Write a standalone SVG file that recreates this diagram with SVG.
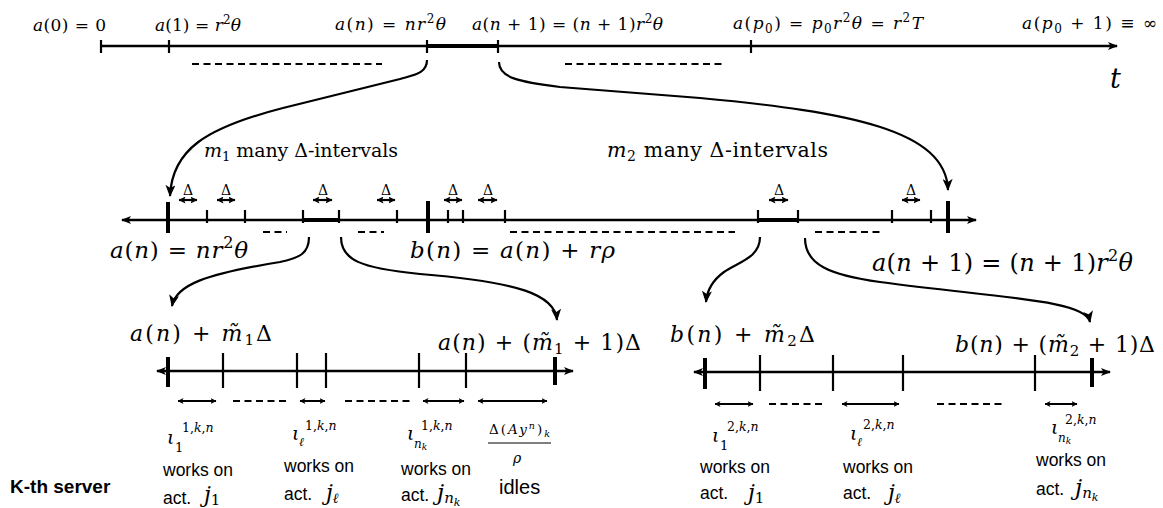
<svg xmlns="http://www.w3.org/2000/svg" width="1163" height="508" viewBox="0 0 1163 508">
<style>
.m{font-family:"DejaVu Serif","Liberation Serif",serif;fill:#000}
.i{font-style:italic}
.s{font-family:"Liberation Sans",Arial,sans-serif;fill:#000}
.ax{stroke:#000;stroke-width:2.4;fill:none}
.tk{stroke:#000;stroke-width:2.2}
.tkb{stroke:#000;stroke-width:4}
.seg{stroke:#000;stroke-width:4}
.dash{stroke:#000;stroke-width:2;stroke-dasharray:7 4.5}
.da{stroke:#000;stroke-width:2;fill:none;marker-start:url(#sm);marker-end:url(#sm)}
.dm{stroke:#000;stroke-width:2.2;fill:none;marker-start:url(#smd);marker-end:url(#smd)}
.cv{stroke:#000;stroke-width:2.2;fill:none;marker-end:url(#big)}
</style>
<defs>
<marker id="ah" viewBox="0 0 10 8" refX="9" refY="4" markerWidth="10" markerHeight="8" markerUnits="userSpaceOnUse" orient="auto-start-reverse"><path d="M0,0 L10,4 L0,8 L2.5,4 z" fill="#000"/></marker>
<marker id="sm" viewBox="0 0 6 6" refX="5.5" refY="3" markerWidth="6" markerHeight="6" markerUnits="userSpaceOnUse" orient="auto-start-reverse"><path d="M0,0 L6,3 L0,6 L1.5,3 z" fill="#000"/></marker>
<marker id="smd" viewBox="0 0 7 7" refX="6.5" refY="3.5" markerWidth="7" markerHeight="7" markerUnits="userSpaceOnUse" orient="auto-start-reverse"><path d="M0,0 L7,3.5 L0,7 L1.5,3.5 z" fill="#000"/></marker>
<marker id="big" viewBox="0 0 12 10" refX="11" refY="5" markerWidth="12" markerHeight="10" markerUnits="userSpaceOnUse" orient="auto"><path d="M0,0 L12,5 L0,10 L3,5 z" fill="#000"/></marker>
</defs>

<g id="top-timeline">
<path class="ax" d="M101,46 L1117,46" marker-end="url(#ah)"/>
<line class="seg" x1="427" y1="46" x2="498" y2="46"/>
<g class="tk"><line x1="101" y1="40" x2="101" y2="53"/><line x1="169" y1="40" x2="169" y2="53"/><line x1="427" y1="40" x2="427" y2="53"/><line x1="498" y1="40" x2="498" y2="53"/><line x1="751" y1="40" x2="751" y2="53"/></g>
<line class="dash" x1="192" y1="64" x2="382" y2="64"/>
<line class="dash" x1="565" y1="64" x2="726" y2="64"/>
<g class="m" font-size="17">
<text x="33" y="31" textLength="73" lengthAdjust="spacing"><tspan class="i">a</tspan>(0) = 0</text>
<text x="155" y="31" textLength="86" lengthAdjust="spacing"><tspan class="i">a</tspan>(1) = <tspan class="i">r</tspan><tspan dy="-7" font-size="12">2</tspan><tspan dy="7" class="i">θ</tspan></text>
<text x="335" y="30" textLength="111" lengthAdjust="spacing"><tspan class="i">a</tspan>(<tspan class="i">n</tspan>) = <tspan class="i">nr</tspan><tspan dy="-7" font-size="12">2</tspan><tspan dy="7" class="i">θ</tspan></text>
<text x="472" y="30" textLength="191" lengthAdjust="spacing"><tspan class="i">a</tspan>(<tspan class="i">n</tspan> + 1) = (<tspan class="i">n</tspan> + 1)<tspan class="i">r</tspan><tspan dy="-7" font-size="12">2</tspan><tspan dy="7" class="i">θ</tspan></text>
<text x="733" y="29" textLength="190" lengthAdjust="spacing"><tspan class="i">a</tspan>(<tspan class="i">p</tspan><tspan dy="4" font-size="12">0</tspan><tspan dy="-4">) = </tspan><tspan class="i">p</tspan><tspan dy="4" font-size="12">0</tspan><tspan dy="-4" class="i">r</tspan><tspan dy="-7" font-size="12">2</tspan><tspan dy="7" class="i">θ</tspan> = <tspan class="i">r</tspan><tspan dy="-7" font-size="12">2</tspan><tspan dy="7" class="i">T</tspan></text>
<text x="1022" y="29" textLength="135" lengthAdjust="spacing"><tspan class="i">a</tspan>(<tspan class="i">p</tspan><tspan dy="4" font-size="12">0</tspan><tspan dy="-4"> + 1) ≡ ∞</tspan></text>
</g>
<text class="m i" x="1110" y="88" font-size="27">t</text>
</g>

<g id="middle-timeline">
<path class="ax" d="M122,220 L976,220" marker-start="url(#ah)" marker-end="url(#ah)"/>
<line class="seg" x1="303" y1="220" x2="339" y2="220"/>
<line class="seg" x1="758" y1="220" x2="798" y2="220"/>
<g class="tk"><line x1="207" y1="210" x2="207" y2="223"/><line x1="245" y1="210" x2="245" y2="223"/><line x1="303" y1="210" x2="303" y2="223"/><line x1="339" y1="210" x2="339" y2="223"/><line x1="397" y1="210" x2="397" y2="223"/><line x1="448" y1="210" x2="448" y2="223"/><line x1="463" y1="210" x2="463" y2="223"/><line x1="505" y1="210" x2="505" y2="223"/><line x1="758" y1="210" x2="758" y2="223"/><line x1="798" y1="210" x2="798" y2="223"/><line x1="892" y1="210" x2="892" y2="223"/><line x1="931" y1="210" x2="931" y2="223"/></g>
<g class="tkb"><line x1="168" y1="202" x2="168" y2="233"/><line x1="428" y1="201" x2="428" y2="233"/><line x1="948" y1="201" x2="948" y2="233"/></g>
<line class="dash" x1="263" y1="232" x2="287" y2="232"/>
<line class="dash" x1="358" y1="232" x2="384" y2="232"/>
<line class="dash" x1="510" y1="232" x2="735" y2="232"/>
<line class="dash" x1="815" y1="232" x2="883" y2="232"/>
<g id="delta-marks">
<path class="dm" d="M179,200 L197,200"/><path class="dm" d="M217,200 L235,200"/><path class="dm" d="M313,200 L332,200"/><path class="dm" d="M377,200 L395,200"/><path class="dm" d="M444,200 L462,200"/><path class="dm" d="M478,200 L497,200"/><path class="dm" d="M769,200 L788,200"/><path class="dm" d="M902,200 L920,200"/>
<g class="m" font-size="14" text-anchor="middle"><text x="188" y="195">Δ</text><text x="226" y="195">Δ</text><text x="323" y="195">Δ</text><text x="386" y="195">Δ</text><text x="453" y="195">Δ</text><text x="488" y="195">Δ</text><text x="779" y="195">Δ</text><text x="911" y="195">Δ</text></g>
</g>
<g class="m">
<text x="204" y="157" font-size="19" textLength="194" lengthAdjust="spacing"><tspan class="i">m</tspan><tspan dy="4" font-size="13">1</tspan><tspan dy="-4"> many Δ-intervals</tspan></text>
<text x="607" y="157" font-size="20.5" textLength="221" lengthAdjust="spacing"><tspan class="i">m</tspan><tspan dy="4" font-size="14">2</tspan><tspan dy="-4"> many Δ-intervals</tspan></text>
</g>
<g class="m" font-size="23">
<text x="110" y="258" textLength="138" lengthAdjust="spacing"><tspan class="i">a</tspan>(<tspan class="i">n</tspan>) = <tspan class="i">nr</tspan><tspan dy="-10" font-size="16">2</tspan><tspan dy="10" class="i">θ</tspan></text>
<text x="410" y="258" textLength="205" lengthAdjust="spacing"><tspan class="i">b</tspan>(<tspan class="i">n</tspan>) = <tspan class="i">a</tspan>(<tspan class="i">n</tspan>) + <tspan class="i">rρ</tspan></text>
<text x="872" y="271" font-size="24" textLength="261" lengthAdjust="spacing"><tspan class="i">a</tspan>(<tspan class="i">n</tspan> + 1) = (<tspan class="i">n</tspan> + 1)<tspan class="i">r</tspan><tspan dy="-10" font-size="16">2</tspan><tspan dy="10" class="i">θ</tspan></text>
</g>
</g>

<g id="bottom-left-timeline">
<path class="ax" d="M157,371 L573,371" marker-start="url(#ah)" marker-end="url(#ah)"/>
<g class="tk"><line x1="223" y1="353" x2="223" y2="388"/><line x1="297" y1="353" x2="297" y2="388"/><line x1="326" y1="353" x2="326" y2="388"/><line x1="419" y1="353" x2="419" y2="388"/><line x1="466" y1="353" x2="466" y2="388"/></g>
<g class="tkb"><line x1="168" y1="357" x2="168" y2="387"/><line x1="555" y1="357" x2="555" y2="385"/></g>
<path class="da" d="M178,401 L216,401"/><path class="da" d="M300,401 L325,401"/><path class="da" d="M423,401 L464,401"/><path class="da" d="M478,401 L547,401"/>
<line class="dash" x1="233" y1="401" x2="288" y2="401"/>
<line class="dash" x1="345" y1="401" x2="413" y2="401"/>
<g class="m" font-size="22">
<text x="130" y="341" textLength="142" lengthAdjust="spacing"><tspan class="i">a</tspan>(<tspan class="i">n</tspan>) + <tspan class="i">m̃</tspan><tspan dy="4" font-size="15">1</tspan><tspan dy="-4">Δ</tspan></text>
<text x="438" y="350" textLength="203" lengthAdjust="spacing"><tspan class="i">a</tspan>(<tspan class="i">n</tspan>) + (<tspan class="i">m̃</tspan><tspan dy="4" font-size="15">1</tspan><tspan dy="-4"> + 1)Δ</tspan></text>
</g>
</g>

<g id="bottom-right-timeline">
<path class="ax" d="M694,372 L1110,372" marker-start="url(#ah)" marker-end="url(#ah)"/>
<g class="tk"><line x1="760" y1="355" x2="760" y2="391"/><line x1="833" y1="355" x2="833" y2="391"/><line x1="903" y1="355" x2="903" y2="391"/><line x1="1035" y1="355" x2="1035" y2="391"/></g>
<g class="tkb"><line x1="705" y1="358" x2="705" y2="389"/><line x1="1092" y1="358" x2="1092" y2="387"/></g>
<path class="da" d="M715,404 L753,404"/><path class="da" d="M842,404 L899,404"/><path class="da" d="M1045,404 L1077,404"/>
<line class="dash" x1="769" y1="404" x2="825" y2="404"/>
<line class="dash" x1="937" y1="404" x2="1005" y2="404"/>
<g class="m" font-size="22">
<text x="670" y="342" textLength="145" lengthAdjust="spacing"><tspan class="i">b</tspan>(<tspan class="i">n</tspan>) + <tspan class="i">m̃</tspan><tspan dy="4" font-size="15">2</tspan><tspan dy="-4">Δ</tspan></text>
<text x="955" y="352" textLength="200" lengthAdjust="spacing"><tspan class="i">b</tspan>(<tspan class="i">n</tspan>) + (<tspan class="i">m̃</tspan><tspan dy="4" font-size="15">2</tspan><tspan dy="-4"> + 1)Δ</tspan></text>
</g>
</g>

<g id="server-label"><text class="s" x="10" y="493" font-size="19" font-weight="bold">K-th server</text></g>

<g id="left-intervals">
<g class="m">
<text><tspan x="167" y="444" font-size="19" class="i">ι</tspan><tspan x="175" y="452" font-size="13">1</tspan><tspan x="182" y="432" font-size="12.5">1,<tspan class="i">k</tspan>,<tspan class="i">n</tspan></tspan></text>
<text><tspan x="292" y="440" font-size="19" class="i">ι</tspan><tspan x="299" y="446" font-size="12" class="i">ℓ</tspan><tspan x="305" y="430" font-size="12.5">1,<tspan class="i">k</tspan>,<tspan class="i">n</tspan></tspan></text>
<text><tspan x="407" y="440" font-size="19" class="i">ι</tspan><tspan x="414" y="448" font-size="12" class="i">n<tspan font-size="9" dy="2">k</tspan></tspan><tspan x="421" y="430" font-size="12.5">1,<tspan class="i">k</tspan>,<tspan class="i">n</tspan></tspan></text>
<text x="489" y="434" font-size="13.5" textLength="61" lengthAdjust="spacing">Δ(<tspan class="i">Ay</tspan><tspan dy="-5" font-size="9.5" class="i">n</tspan><tspan dy="5">)</tspan><tspan dy="3" font-size="9.5" class="i">k</tspan></text>
<text x="513" y="463" font-size="14" class="i">ρ</text>
</g>
<line x1="488" y1="443" x2="551" y2="443" stroke="#000" stroke-width="1.2"/>
<g class="s" font-size="17.5">
<text x="163" y="476">works on</text><text x="163" y="504">act.</text>
<text x="284" y="472">works on</text><text x="284" y="500">act.</text>
<text x="401" y="475">works on</text><text x="401" y="501">act.</text>
<text x="499" y="494" font-size="20">idles</text>
</g>
<g class="m">
<text x="204" y="502" font-size="22"><tspan class="i">j</tspan><tspan dy="3" font-size="15">1</tspan></text>
<text x="326" y="500" font-size="22"><tspan class="i">j</tspan><tspan dy="3" font-size="14" class="i">ℓ</tspan></text>
<text x="437" y="500" font-size="23"><tspan class="i">j</tspan><tspan dy="3" font-size="15" class="i">n</tspan><tspan dy="3" font-size="11" class="i">k</tspan></text>
</g>
</g>

<g id="right-intervals">
<g class="m">
<text><tspan x="712" y="442" font-size="19" class="i">ι</tspan><tspan x="720" y="450" font-size="13">1</tspan><tspan x="727" y="431" font-size="12.5">2,<tspan class="i">k</tspan>,<tspan class="i">n</tspan></tspan></text>
<text><tspan x="850" y="440" font-size="19" class="i">ι</tspan><tspan x="857" y="446" font-size="12" class="i">ℓ</tspan><tspan x="863" y="429" font-size="12.5">2,<tspan class="i">k</tspan>,<tspan class="i">n</tspan></tspan></text>
<text><tspan x="1051" y="434" font-size="19" class="i">ι</tspan><tspan x="1058" y="442" font-size="12" class="i">n<tspan font-size="9" dy="2">k</tspan></tspan><tspan x="1065" y="424" font-size="12.5">2,<tspan class="i">k</tspan>,<tspan class="i">n</tspan></tspan></text>
</g>
<g class="s" font-size="17.5">
<text x="700" y="473">works on</text><text x="700" y="499">act.</text>
<text x="843" y="473">works on</text><text x="843" y="499">act.</text>
<text x="1036" y="466">works on</text><text x="1036" y="495">act.</text>
</g>
<g class="m">
<text x="748" y="500" font-size="22"><tspan class="i">j</tspan><tspan dy="3" font-size="15">1</tspan></text>
<text x="888" y="500" font-size="22"><tspan class="i">j</tspan><tspan dy="3" font-size="14" class="i">ℓ</tspan></text>
<text x="1075" y="495" font-size="23"><tspan class="i">j</tspan><tspan dy="3" font-size="15" class="i">n</tspan><tspan dy="3" font-size="11" class="i">k</tspan></text>
</g>
</g>

<g id="connectors">
<path class="cv" d="M427,60 C427,74 413,75 400,79 L283,108 C205,128 172,150 170,196"/>
<path class="cv" d="M499,62 C499,78 520,82 560,87 L700,98 C850,112 946,130 948,190"/>
<path class="cv" d="M309,237 C309,253 300,258 280,262 C205,274 176,285 172,306"/>
<path class="cv" d="M341,237 C341,260 360,268 420,274 C520,282 555,295 557,320"/>
<path class="cv" d="M760,237 C760,258 738,262 724,272 C713,280 707,290 706,302"/>
<path class="cv" d="M805,238 C805,265 830,275 880,282 C1000,298 1086,300 1090,322"/>
</g>
</svg>
